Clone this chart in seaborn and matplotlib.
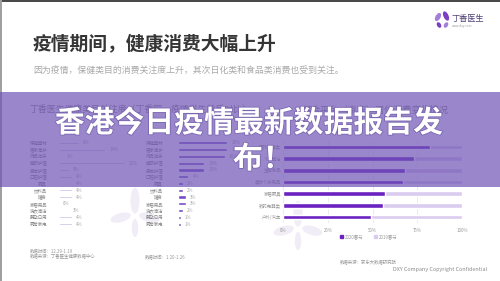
import matplotlib
matplotlib.use("Agg")
import matplotlib.pyplot as plt
import matplotlib.patheffects as pe
from matplotlib.patches import Rectangle, Ellipse, Patch
import pandas as pd
import seaborn as sns

sns.set_style("white")
plt.rcParams['font.family'] = ['Noto Sans CJK SC', 'DejaVu Sans']

# ---------------- data ----------------
title = "疫情期间，健康消费大幅上升"
subtitle = "因为疫情，保健类目的消费关注度上升，其次日化类和食品类消费也受到关注。"
banner = "香港今日疫情最新数据报告发"
banner2 = "布！"

left_title = "丁香医生健康类目关注度（丁香园，疫情发生前后对比）"
right_title = "综合平台（京东）居住消费变化情况"

categories = ["保健器材", "居家清护", "药品消杀", "面部护理", "身体护理", "口腔护理", "厨具",
              "饮料品", "罐食", "家居用品", "洗衣清洁", "婴孕日用", "厨房家电"]
before_values = [6, 14, 1, 20, 3, 4, 4, 4, 4, 0, 3, 4, 4]
after_values = [19, 19, 18, 10, 10, 4, 2, 2, 3, 3, 2, 1, 1]

jd_categories = ["医药保健类", "个护清洁", "生鲜食品", "美妆个护用品", "家居厨具", "数码电器类", "户外/汽车"]
share_2020 = [82, 73, 68, 67, 57, 56, 49]
share_2019 = [18, 27, 32, 33, 43, 44, 51]
series_names = ["2020春节", "2019春节"]
x_ticks = [0, 25, 50, 75, 100]

note_left1 = "数据时间：12.29-1.19"
note_left2 = "数据来源：丁香医生健康数据中心"
note_mid = "数据时间：1.20-1.26"
note_right = "数据来源：京东大数据研究院"
copyright_text = "DXY Company Copyright Confidential"

# ---------------- figure ----------------
W, H = 500, 281
fig = plt.figure(figsize=(5, 2.81), dpi=100)
fig.patch.set_facecolor("white")

def px_axes(x0, y0, x1, y1, z=1):
    ax = fig.add_axes([x0 / W, 1 - y1 / H, (x1 - x0) / W, (y1 - y0) / H], zorder=z)
    ax.set_facecolor("none")
    return ax

bg = px_axes(0, 0, W, H, z=0)
bg.set_xlim(0, W); bg.set_ylim(H, 0); bg.axis("off")

# frame lines
bg.add_patch(Rectangle((0, 0), W, 2.2, color="#4a4a4a", lw=0))
bg.add_patch(Rectangle((0, 0), 2.2, H, color="#a0a0a0", lw=0))

# watermark flowers
def flower(cx, cy, s=1.0, col="#f1edf7"):
    bg.add_patch(Ellipse((cx, cy - 11 * s), 7 * s, 20 * s, color=col, lw=0))
    bg.add_patch(Ellipse((cx, cy + 10 * s), 5 * s, 14 * s, color=col, lw=0))
    bg.add_patch(Ellipse((cx - 11 * s, cy + 2 * s), 16 * s, 7 * s, angle=-15, color=col, lw=0))
    bg.add_patch(Ellipse((cx + 11 * s, cy + 2 * s), 16 * s, 7 * s, angle=15, color=col, lw=0))

flower(135, 215, 1.3)
flower(298, 228, 1.3)

# logo
bg.add_patch(Ellipse((438, 17), 5, 9, angle=30, color="#a47fd9", lw=0))
bg.add_patch(Ellipse((446, 16), 5, 10, angle=-25, color="#7b3fc6", lw=0))
bg.add_patch(Ellipse((439, 25), 4, 6, angle=-30, color="#7b3fc6", lw=0))
bg.add_patch(Ellipse((446, 25), 4, 6, angle=30, color="#a47fd9", lw=0))
bg.text(452, 19, "丁香医生", fontsize=5.9, color="#4e4078", va="center", ha="left")
bg.text(452, 25.5, "www.dxy.com", fontsize=2.2, color="#999999", va="center", ha="left")

# titles
bg.text(33, 44, title, fontsize=13.5, fontweight="bold", color="#353535", va="center", ha="left")
bg.text(33, 71, subtitle, fontsize=6.4, color="#a8a8a8", va="center", ha="left")
bg.text(30, 110, left_title, fontsize=6.4, color="#888888", va="center", ha="left")
bg.text(303, 110, right_title, fontsize=6.6, color="#888888", va="center", ha="left")

# notes
small = 3.2
bg.text(30, 251, note_left1, fontsize=small, color="#999999", va="center")
bg.text(30, 257, note_left2, fontsize=small, color="#999999", va="center")
bg.text(145, 257, note_mid, fontsize=small, color="#999999", va="center")
bg.text(340, 263, note_right, fontsize=small, color="#999999", va="center")
bg.text(393, 269, copyright_text, fontsize=3.9, color="#8a8a8a", va="center")

# ---------------- left lists ----------------
df_left = pd.DataFrame({"cat": categories, "before": before_values, "after": after_values})

def style_list(ax, pad):
    for s in ax.spines.values():
        s.set_visible(False)
    ax.set_xlim(0, 30)
    ax.set_xticks([])
    ax.tick_params(axis="y", length=0, pad=pad, labelsize=small, labelcolor="#888888")
    ax.set_xlabel(""); ax.set_ylabel("")

ax1 = px_axes(59, 139.6, 158, 227.4)
sns.barplot(data=df_left, x="before", y="cat", orient="h", color="#c0b3de",
            width=0.28, ax=ax1, saturation=1)
style_list(ax1, 8.6)
for i, v in enumerate(before_values):
    ax1.text(v + 1.2, i, f"{v}%", fontsize=small, color="#aaaaaa", va="center")

ax2 = px_axes(178, 139.6, 256, 227.4)
sns.barplot(data=df_left, x="after", y="cat", orient="h", color="#7648c6",
            width=0.45, ax=ax2, saturation=1)
style_list(ax2, 10.8)
for i, v in enumerate(after_values):
    ax2.text(v + 1.6, i, f"{v}%", fontsize=small, color="#aaaaaa", va="center")

# ---------------- right stacked chart ----------------
df_jd = pd.DataFrame({"cat": jd_categories, "s2020": share_2020, "s2019": share_2019})
df_jd["total"] = df_jd["s2020"] + df_jd["s2019"]
dark, light = "#6a22c0", "#dacbf0"

ax3 = px_axes(283, 141, 462, 223)
sns.barplot(data=df_jd, x="total", y="cat", orient="h", color=light, width=0.4,
            ax=ax3, saturation=1)
sns.barplot(data=df_jd, x="s2020", y="cat", orient="h", color=dark, width=0.4,
            ax=ax3, saturation=1)
ax3.set_xlim(0, 100)
ax3.set_xticks(x_ticks)
ax3.set_xticklabels([f"{t}%" for t in x_ticks])
ax3.grid(axis="x", color="#e4e4e4", lw=0.5)
ax3.set_axisbelow(True)
for s in ax3.spines.values():
    s.set_visible(False)
ax3.tick_params(axis="both", length=0, labelsize=small, labelcolor="#999999")
ax3.tick_params(axis="x", pad=3.5)
ax3.tick_params(axis="y", pad=1.5)
ax3.set_xlabel(""); ax3.set_ylabel("")
ax3.legend(handles=[Patch(color=dark), Patch(color=light)], labels=series_names,
           ncol=2, frameon=False, fontsize=small, handlelength=0.6, handleheight=0.6,
           handletextpad=0.5, columnspacing=2.3, loc="center",
           bbox_to_anchor=((369 - 283) / 179, (223 - 236.5) / 82),
           labelcolor="#999999")

# ---------------- banner overlay ----------------
ov = px_axes(0, 0, W, H, z=10)
ov.set_xlim(0, W); ov.set_ylim(H, 0); ov.axis("off")
ov.add_patch(Rectangle((0, 92), W, 95, color=(112 / 255, 84 / 255, 181 / 255), alpha=0.7, lw=0))
shadow = [pe.withStroke(linewidth=1.2, foreground="#7a66b0")]
ov.text(249, 123, banner, fontsize=21.5, fontweight="bold", color="white",
        ha="center", va="center", path_effects=shadow)
ov.text(233, 159, banner2, fontsize=21.5, fontweight="bold", color="white",
        ha="left", va="center", path_effects=shadow)

fig.savefig("out.png", dpi=100)
